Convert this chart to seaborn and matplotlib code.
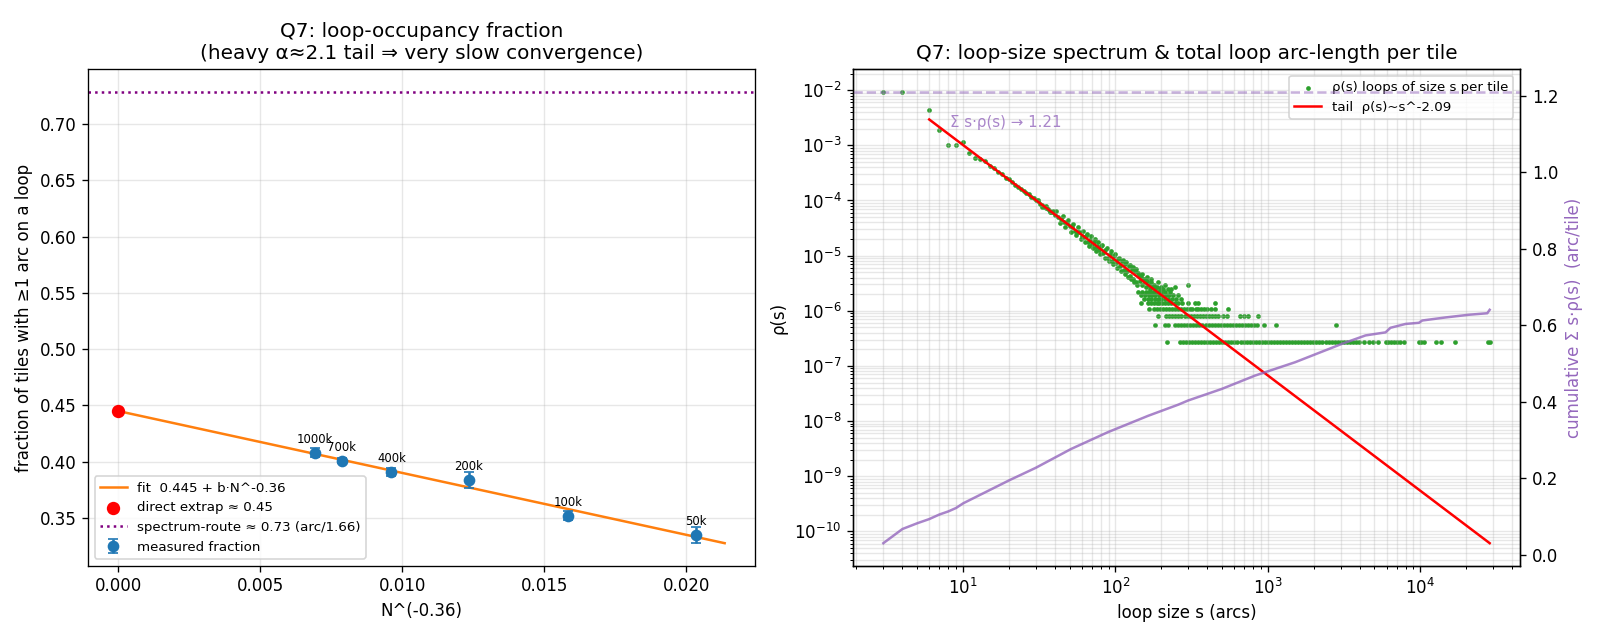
import numpy as np
import pandas as pd
import seaborn as sns
from matplotlib import pyplot as plt


# Left panel: loop-occupancy fraction vs N^(-0.36)
tile_counts = [50000, 100000, 200000, 400000, 700000, 1000000]
tile_labels = ["50k", "100k", "200k", "400k", "700k", "1000k"]
frac_measured = [0.335, 0.352, 0.384, 0.391, 0.401, 0.408]
frac_err = [0.007, 0.004, 0.007, 0.0035, 0.002, 0.004]

fit_a = 0.445
fit_b = -5.5
fit_exp = 0.36
direct_extrap = 0.445
spectrum_total = 1.21
arc_per_tile = 1.66

# Right panel: loop-size spectrum, rho(s) = count / n_tiles
n_tiles = 3.68e6

head_sizes = [3, 4, 6, 7, 8, 9, 10, 11, 12, 13, 14, 15, 16, 17, 18, 19, 20, 21, 22, 23,
              24, 25, 26, 27, 28, 29, 30, 31, 32, 33, 34, 35, 36, 37, 38, 39, 40, 42, 44, 46,
              48, 50, 52, 54, 56, 58, 60, 62, 64, 66, 68, 70, 72, 74, 76, 78, 80, 83, 86, 89,
              92, 95, 98, 101, 104, 107, 110, 113, 116, 119, 122, 125, 128, 131, 134, 137, 140]
head_counts = [34600, 34600, 15800, 7000, 3720, 3720, 4150, 2720, 2150, 2080, 1880, 1570, 1410,
               1210, 1100, 960, 885, 795, 700, 660, 590, 556, 498, 474, 425, 412, 368, 356, 322,
               310, 282, 270, 262, 236, 226, 224, 204, 182, 172, 148, 146, 126, 124, 104, 100,
               97, 84, 80, 82, 66, 71, 60, 66, 52, 56, 46, 54, 41, 46, 34, 40, 30, 36, 27, 32,
               24, 29, 20, 26, 19, 24, 16, 21, 14, 19, 12, 18]

extra_sizes = [31, 33, 35, 37, 39, 41, 43, 45, 47, 49, 51, 53, 55, 57, 59, 61, 63, 65, 67, 69,
               71, 73, 75, 77, 79, 82, 85, 88, 91, 94, 97, 100, 103, 106, 109, 112, 115, 118,
               121, 124, 127, 130, 133, 136, 139]
extra_counts = [380, 285, 292, 224, 236, 240, 145, 195, 120, 162, 100, 140, 86, 120, 74, 104,
                64, 92, 56, 82, 50, 73, 44, 66, 40, 58, 34, 50, 29, 44, 26, 39, 22, 34, 19, 31,
                17, 28, 15, 25, 14, 23, 12, 21, 11]

cloud_sizes = [142, 145, 148, 150, 153, 156, 159, 162, 165, 168, 171, 174, 178, 182, 186, 190,
               195, 200, 206, 212, 220, 230, 245, 297, 150, 160, 170]
cloud_counts = [16, 13, 15, 11, 14, 12, 10, 13, 11, 9, 12, 10, 11, 9, 10, 12, 9, 10, 9, 11, 9,
                9, 10, 11, 17, 15, 14]

row8_sizes = [141, 150, 158, 165, 172, 180, 190, 200, 210, 228]
row7_sizes = [148, 156, 165, 173, 182, 192, 203, 214, 225, 240, 257]
row6_sizes = [155, 163, 172, 181, 190, 200, 210, 222, 234, 248, 270]
row5_sizes = [148, 163, 170, 178, 186, 194, 203, 212, 222, 233, 245, 258, 272, 300, 330, 350,
              452]
row4_sizes = [166, 180, 188, 196, 205, 214, 224, 234, 245, 256, 268, 280, 293, 307, 320, 335,
              350, 365, 380, 400, 423, 450, 550]
row3_sizes = [190, 215, 225, 236, 247, 259, 271, 284, 297, 311, 326, 341, 357, 374, 392, 410,
              430, 450, 470, 510, 543, 656, 700, 745, 860]
row2_sizes = [181, 210, 222, 245, 257, 269, 282, 295, 309, 324, 339, 355, 372, 390, 408, 427,
              447, 468, 490, 513, 537, 563, 589, 617, 646, 676, 708, 741, 776, 812, 850, 948,
              1125, 2810]
row1_sizes = [218, 265, 277, 290, 303, 317, 332, 348, 364, 381, 399, 418, 437, 458, 479, 502,
              525, 550, 576, 603, 631, 661, 692, 724, 758, 794, 831, 870, 911, 954, 998, 1045,
              1094, 1146, 1200, 1256, 1315, 1376, 1441, 1509, 1580, 1654, 1731, 1813, 1898,
              1987, 2080, 2178, 2280, 2387, 2500, 2617, 2740, 2868, 3003, 3144, 3292, 3446,
              3608, 3778, 3950, 4250, 4580, 4870, 5270, 5910, 6150, 6400, 6700, 7000, 7300,
              7770, 9780, 10100, 10500, 12600, 13700, 16900, 27800, 28500]

tail_amp = 0.1247
tail_exp = 2.09
tail_smin = 6
tail_smax = 28500

# cumulative sum s*rho(s)
cum_sizes = [3, 4, 5, 6, 7, 8, 9, 10, 20, 30, 51, 89, 164, 258, 300, 497, 823, 1510, 3060,
             4370, 5910, 6370, 8000, 9780, 10300, 14650, 20800, 27500, 28500]
cum_vals = [0.030, 0.067, 0.082, 0.093, 0.105, 0.113, 0.122, 0.134, 0.194, 0.227, 0.276, 0.320,
            0.363, 0.392, 0.403, 0.433, 0.468, 0.503, 0.551, 0.573, 0.581, 0.593, 0.603, 0.606,
            0.612, 0.620, 0.627, 0.631, 0.640]


# Build spectrum table
parts = [pd.DataFrame({"s": head_sizes, "count": head_counts}),
         pd.DataFrame({"s": extra_sizes, "count": extra_counts}),
         pd.DataFrame({"s": cloud_sizes, "count": cloud_counts})]
for c, sizes in zip([8, 7, 6, 5, 4, 3, 2, 1],
                    [row8_sizes, row7_sizes, row6_sizes, row5_sizes,
                     row4_sizes, row3_sizes, row2_sizes, row1_sizes]):
    parts.append(pd.DataFrame({"s": sizes, "count": c}))
spec = pd.concat(parts, ignore_index=True)
spec["rho"] = spec["count"] / n_tiles


# 1600x640 at dpi 120
fig, (ax1, ax2) = plt.subplots(1, 2, figsize=(40 / 3, 16 / 3))
plt.subplots_adjust(left=0.055, right=0.95, bottom=0.116, top=0.892, wspace=0.147)

# ---- left panel
x_meas = np.array(tile_counts, dtype=float) ** (-fit_exp)
fit_x = np.array([0.0, x_meas.max() * 1.05])
fit_y = fit_a + fit_b * fit_x

ax1.plot(fit_x, fit_y, color="C1", lw=1.5, label=f"fit  {fit_a:.3f} + b·N^-{fit_exp}")
sns.scatterplot(x=[0.0], y=[direct_extrap], color="red", s=64, linewidth=0, zorder=5,
                ax=ax1, label=f"direct extrap ≈ {direct_extrap:.2f}")
ax1.axhline(spectrum_total / arc_per_tile, color="purple", ls=":", lw=1.5,
            label=f"spectrum-route ≈ {spectrum_total / arc_per_tile:.2f} (arc/{arc_per_tile})")
ax1.errorbar(x_meas, frac_measured, yerr=frac_err, fmt="o", color="C0", capsize=3,
             label="measured fraction")
for xv, yv, lab in zip(x_meas, frac_measured, tile_labels):
    ax1.annotate(lab, (xv, yv), textcoords="offset points", xytext=(0, 6),
                 ha="center", fontsize=7)

ax1.set_xlabel("N^(-0.36)")
ax1.set_ylabel("fraction of tiles with ≥1 arc on a loop")
ax1.set_title("Q7: loop-occupancy fraction\n(heavy α≈2.1 tail ⇒ very slow convergence)")
ax1.grid(alpha=0.3)
ax1.legend(loc="lower left", fontsize=8)

# ---- right panel
ax2.set_xscale("log")
ax2.set_yscale("log")
sns.scatterplot(data=spec, x="s", y="rho", color="tab:green", s=8, linewidth=0, ax=ax2,
                label="ρ(s) loops of size s per tile")
tail_s = np.array([tail_smin, tail_smax], dtype=float)
ax2.plot(tail_s, tail_amp * tail_s ** (-tail_exp), color="red", lw=1.5,
         label=f"tail  ρ(s)~s^-{tail_exp}")
ax2.grid(True, which="both", alpha=0.3)
ax2.set_xlabel("loop size s (arcs)")
ax2.set_ylabel("ρ(s)")
ax2.set_title("Q7: loop-size spectrum & total loop arc-length per tile")
ax2.legend(loc="upper right", fontsize=8)

ax2b = ax2.twinx()
sns.lineplot(x=cum_sizes, y=cum_vals, color="tab:purple", alpha=0.8, lw=1.5, ax=ax2b)
ax2b.axhline(spectrum_total, color="tab:purple", ls="--", alpha=0.5, lw=1.5)
ax2b.set_ylabel("cumulative Σ s·ρ(s)  (arc/tile)", color="tab:purple")
ax2.text(0.145, 0.893, f"Σ s·ρ(s) → {spectrum_total}", transform=ax2.transAxes,
         color="tab:purple", alpha=0.8, va="center", fontsize=9)

plt.savefig("out.png", dpi=120)
